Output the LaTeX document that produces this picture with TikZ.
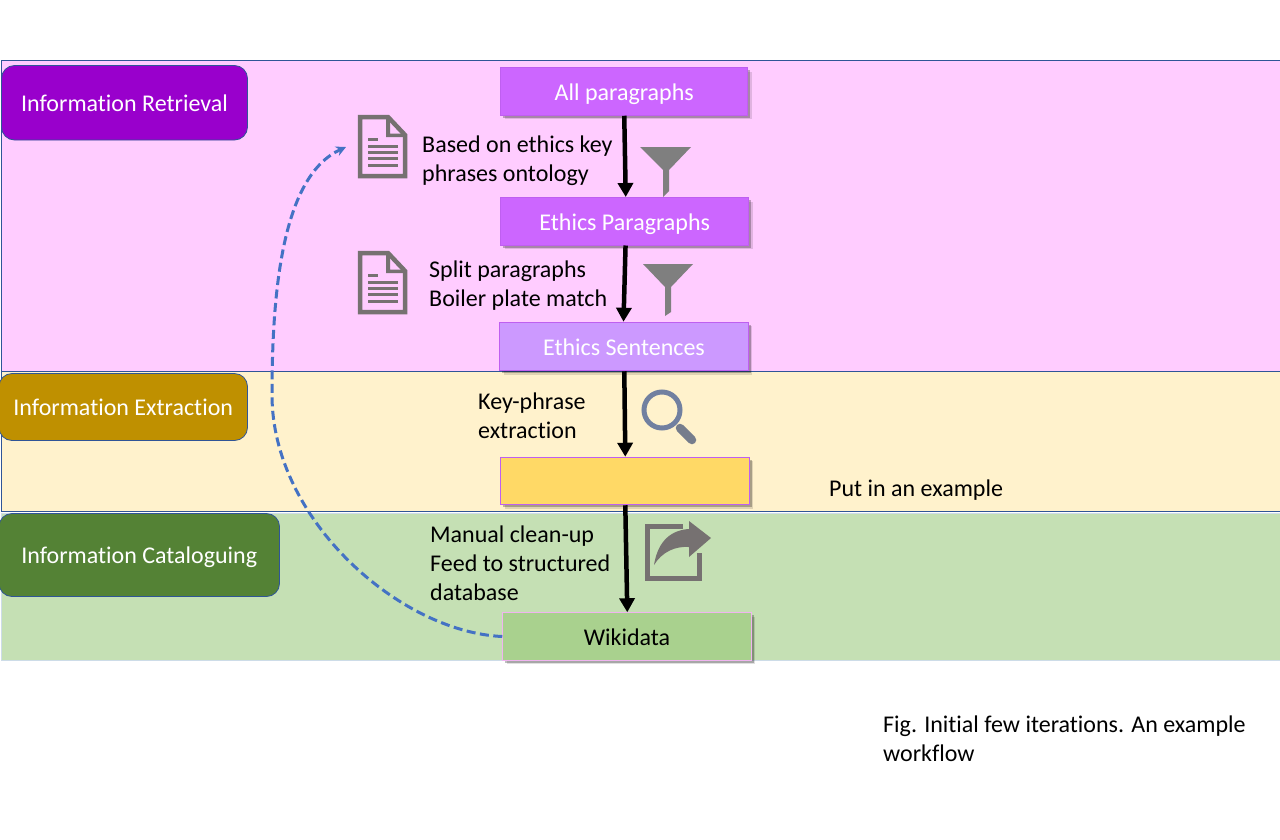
\documentclass[tikz,border=0pt]{standalone}
\usepackage{fontspec}
\setmainfont[Ligatures=NoCommon]{Carlito}
\usetikzlibrary{arrows.meta,shadows}
\definecolor{edgeblue}{HTML}{2F5597}
\definecolor{icongray}{HTML}{767171}
\definecolor{funnelgray}{HTML}{7F7F7F}
\definecolor{dashblue}{HTML}{4472C4}
\definecolor{boxpurple}{HTML}{BF5FF0}
\definecolor{boxpink}{HTML}{F0B4F0}
\newcommand{\tstrut}{\rule[-5.7pt]{0pt}{29pt}}
\tikzset{
  x=1pt,y=-1pt,
  band/.style={draw=edgeblue,line width=.8pt},
  stage/.style={draw=edgeblue,line width=.8pt,rounded corners=13pt,text=white,inner sep=0pt,font=\fontsize{24}{29}\selectfont,execute at begin node=\tstrut},
  stepbox/.style={draw=#1,line width=1pt,minimum height=47.5pt,inner sep=0pt,
    font=\fontsize{24}{29}\selectfont,execute at begin node=\tstrut,
    drop shadow={shadow xshift=4pt,shadow yshift=-4pt,fill=black,opacity=.12},
    drop shadow={shadow xshift=2.5pt,shadow yshift=-2.5pt,fill=black,opacity=.25}},
  stepbox/.default={boxpurple},
  flow/.style={line width=4.5pt,-{Triangle[length=14pt,width=15pt]}},
  note/.style={anchor=west,align=left,inner sep=0pt,text=black,font=\fontsize{24}{29}\selectfont},
  docicon/.style={draw=icongray,line width=4.5pt,miter limit=2},
  docline/.style={draw=icongray,line width=3pt},
}
\newcommand{\docglyph}[2]{%
  \begin{scope}[shift={(#1,#2)}]
    \draw[docicon] (2,2) -- (30,2) -- (47,20) -- (47,61) -- (2,61) -- cycle;
    \fill[icongray] (28,2) -- (28,22) -- (47,22) -- (47,18.5) -- (32,18.5) -- (32,2) -- cycle;
    \draw[docline] (10,24) -- (20,24);
    \draw[docline] (10,31) -- (40,31);
    \draw[docline] (10,37.5) -- (40,37.5);
    \draw[docline] (10,43.5) -- (40,43.5);
    \draw[docline] (10,50) -- (40,50);
  \end{scope}}
\begin{document}
\begin{tikzpicture}
\useasboundingbox (0,0) rectangle (1280,839);
\fill[white] (0,0) rectangle (1280,839);
% bands
\path[band,fill={rgb,255:red,255;green,204;blue,255}] (1.5,60.5) rectangle (1285,371.5);
\path[band,fill={rgb,255:red,255;green,242;blue,204}] (1.5,371.5) rectangle (1285,511.5);
\path[draw={rgb,255:red,205;green,220;blue,232},line width=.8pt,fill={rgb,255:red,197;green,224;blue,180}] (1.5,513) rectangle (1285,660);
% stage labels
\node[stage,fill={rgb,255:red,153;green,0;blue,204},minimum width=246pt,minimum height=74.5pt] (ir) at (124.5,102.75) {Information Retrieval};
\node[stage,fill={rgb,255:red,191;green,144;blue,0},minimum width=248.5pt,minimum height=67pt] (ie) at (123.25,407) {Information Extraction};
\node[stage,fill={rgb,255:red,84;green,130;blue,53},minimum width=280.5pt,minimum height=83pt] (ic) at (139.25,555) {Information Cataloguing};
% process boxes
\node[stepbox,fill={rgb,255:red,204;green,102;blue,255},text=white,minimum width=247pt] (a) at (624.25,91.5) {All paragraphs};
\node[stepbox,fill={rgb,255:red,204;green,102;blue,255},text=white,minimum width=248pt] (b) at (624.75,221.25) {Ethics Paragraphs};
\node[stepbox,fill={rgb,255:red,204;green,153;blue,255},text=white,minimum width=248.5pt,minimum height=48.5pt] (c) at (624,346.5) {Ethics Sentences};
\node[stepbox,fill={rgb,255:red,255;green,217;blue,102},minimum width=248.5pt] (d) at (625,481) {};
\node[stepbox=boxpink,fill={rgb,255:red,169;green,209;blue,142},text=black,minimum width=248.5pt] (e) at (627,636.5) {Wikidata};
% arrows
\draw[flow] (a.south) -- ([xshift=1pt]b.north);
\draw[flow] ([xshift=.8pt]b.south) -- ([xshift=-.5pt]c.north);
\draw[flow] ([xshift=.3pt]c.south) -- ([xshift=.3pt]d.north);
\draw[flow] ([xshift=.3pt]d.south) -- ([xshift=.3pt]e.north);
% dashed feedback
\coordinate (fbend) at (346,147);
\draw[dashblue,line width=3pt,dash pattern=on 9pt off 4.5pt,-{Stealth[length=10pt,width=10pt]}]
  (e.west) .. controls (400,632) and (272,520) .. (272,395)
  .. controls (272,280) and (285,175) .. (fbend);
% text
\node[note] (t1) at (422,158.5) {\tstrut Based on ethics key\\\tstrut phrases ontology};
\node[note] (t2) at (429,283.5) {\tstrut Split paragraphs\\\tstrut Boiler plate match};
\node[note] (t3) at (478,415) {\tstrut Key-phrase\\\tstrut extraction};
\node[note] (t4) at (430,563) {\tstrut Manual clean-up\\\tstrut Feed to structured\\\tstrut database};
\node[note] (t5) at (829,488) {\tstrut Put in an example};
\node[note] (t6) at (883,738.5) {\tstrut Fig. Initial few iterations. An example\\\tstrut workflow};
% document icons
\docglyph{358}{115}
\docglyph{358}{251}
% funnels
\fill[funnelgray] (640,147) -- (691,147) -- (669,170) -- (669,191) -- (663,197) -- (663,170) -- cycle;
\fill[funnelgray] (643,264) -- (693,264) -- (671,287) -- (671,312) -- (665,316) -- (665,287) -- cycle;
% magnifier
\draw[draw={rgb,255:red,113;green,128;blue,160},line width=5pt] (662,410) circle (18);
\draw[draw={rgb,255:red,118;green,125;blue,140},line width=8.5pt,line cap=round] (680,428) -- (692,440);
% share icon
\draw[icongray,line width=5pt] (683,526.5) -- (647.5,526.5) -- (647.5,578) -- (699.5,578) -- (699.5,553);
\fill[icongray] (654,565) .. controls (658,540) and (672,530) .. (689,529) -- (689,521) -- (711,538) -- (689,557) -- (689,547) .. controls (675,546) and (662,552) .. cycle;
\end{tikzpicture}
\end{document}
